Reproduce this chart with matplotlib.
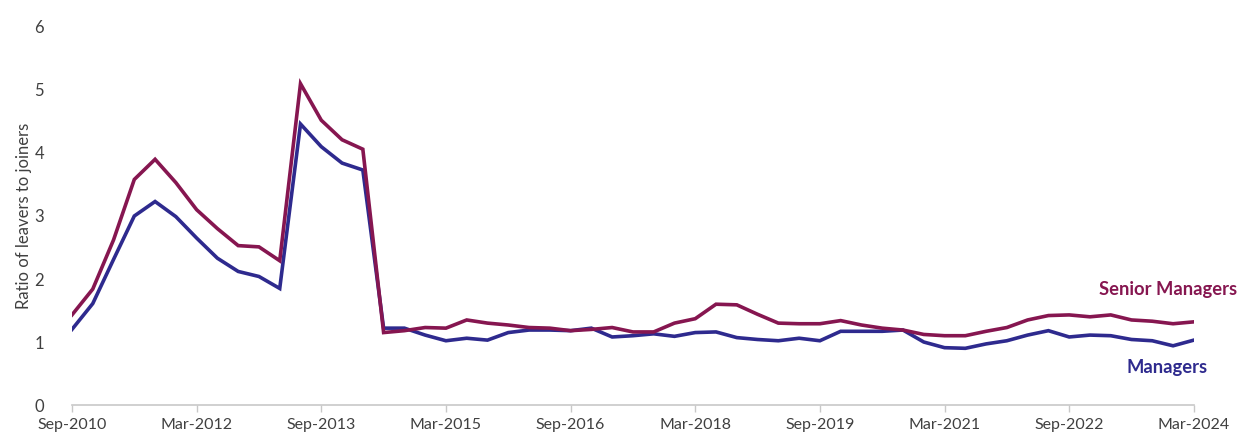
import matplotlib
matplotlib.use("Agg")
import matplotlib.pyplot as plt
import numpy as np

# Quarterly ratio of leavers to joiners, Sep-2010 to Mar-2024
senior_managers = [
    1.43, 1.84, 2.62, 3.58, 3.90, 3.53, 3.10, 2.80, 2.53, 2.51,
    2.29, 5.10, 4.52, 4.21, 4.06, 1.15, 1.18, 1.23, 1.22, 1.35,
    1.30, 1.27, 1.23, 1.22, 1.18, 1.20, 1.23, 1.16, 1.16, 1.30,
    1.37, 1.60, 1.59, 1.44, 1.30, 1.29, 1.29, 1.34, 1.27, 1.22,
    1.19, 1.12, 1.10, 1.10, 1.17, 1.23, 1.35, 1.42, 1.43, 1.40,
    1.43, 1.35, 1.33, 1.29, 1.32,
]
managers = [
    1.20, 1.61, 2.31, 3.00, 3.23, 2.99, 2.65, 2.33, 2.12, 2.04,
    1.85, 4.46, 4.10, 3.84, 3.73, 1.22, 1.22, 1.11, 1.02, 1.06,
    1.03, 1.15, 1.19, 1.19, 1.18, 1.22, 1.08, 1.10, 1.13, 1.09,
    1.15, 1.16, 1.07, 1.04, 1.02, 1.06, 1.02, 1.17, 1.17, 1.17,
    1.19, 1.00, 0.91, 0.90, 0.97, 1.02, 1.11, 1.18, 1.08, 1.11,
    1.10, 1.04, 1.02, 0.94, 1.03,
]
x_tick_labels = [
    "Sep-2010", "Mar-2012", "Sep-2013", "Mar-2015", "Sep-2016",
    "Mar-2018", "Sep-2019", "Mar-2021", "Sep-2022", "Mar-2024",
]
y_ticks = [0, 1, 2, 3, 4, 5, 6]

MAROON = "#861650"
NAVY = "#2e2a8e"
TEXT = "#404040"

plt.rcParams["font.family"] = ["Lato", "DejaVu Sans"]

fig = plt.figure(figsize=(12.41, 4.38), dpi=100)
ax = fig.add_axes([0.058, 0.0753, 0.904, 0.8631])

x = np.arange(len(senior_managers))
ax.plot(x, managers, color=NAVY, lw=2.6, solid_joinstyle="miter")
ax.plot(x, senior_managers, color=MAROON, lw=2.6, solid_joinstyle="miter")

ax.set_xlim(0, len(x) - 1)
ax.set_ylim(0, 6)
ax.set_yticks(y_ticks)
ax.set_yticklabels([str(v) for v in y_ticks])
ax.set_xticks(np.arange(0, len(x), 6))
ax.set_xticklabels(x_tick_labels)

for side in ("top", "right", "left"):
    ax.spines[side].set_visible(False)
ax.spines["bottom"].set_color("#c8c8c8")
ax.spines["bottom"].set_linewidth(1.2)
ax.tick_params(axis="x", colors="#c8c8c8", length=5, width=1, labelcolor=TEXT,
               labelsize=11.5, pad=4)
ax.tick_params(axis="y", length=0, labelcolor=TEXT, labelsize=12, pad=20)

ax.set_ylabel("Ratio of leavers to joiners", fontsize=12, color=TEXT, labelpad=2)

ax.text(1.039, 1.83, "Senior Managers", transform=ax.get_yaxis_transform(),
        ha="right", va="center", fontsize=13.2, fontweight="bold", color=MAROON,
        clip_on=False)
ax.text(1.0125, 0.6, "Managers", transform=ax.get_yaxis_transform(),
        ha="right", va="center", fontsize=13.2, fontweight="bold", color=NAVY,
        clip_on=False)

fig.savefig("out.png", dpi=100)
